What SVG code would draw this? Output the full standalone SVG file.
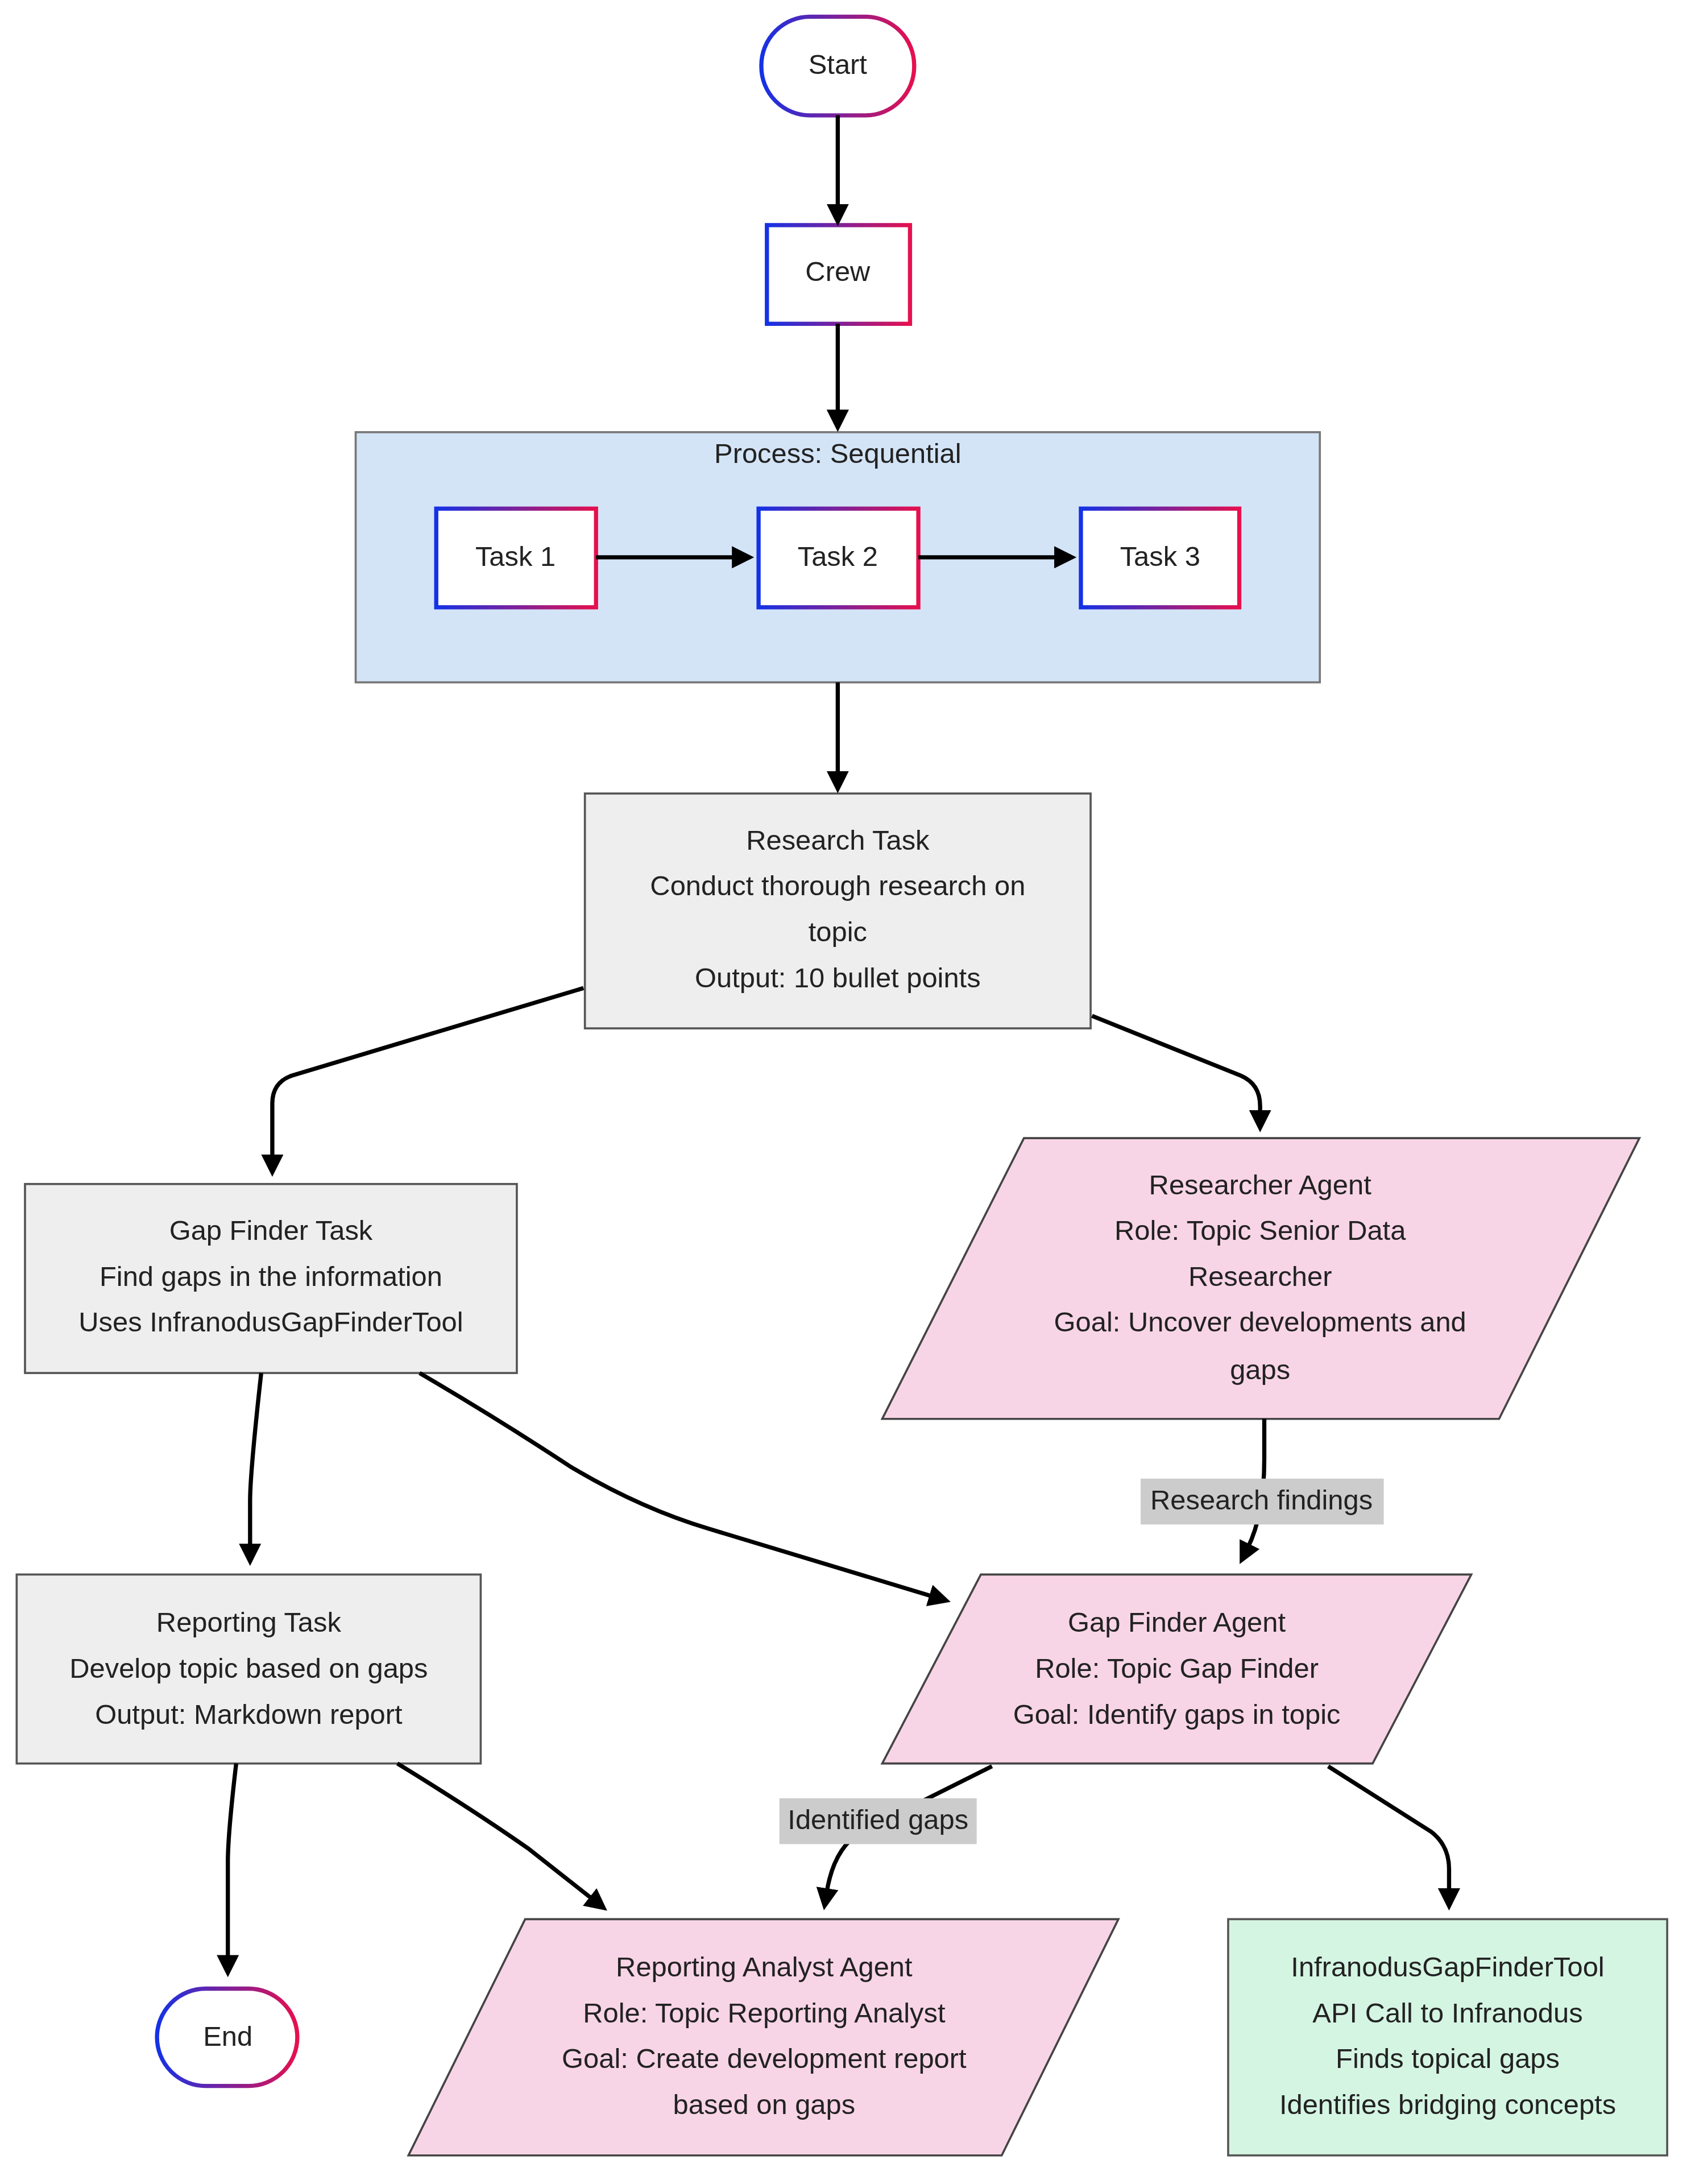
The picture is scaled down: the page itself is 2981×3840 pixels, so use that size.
<svg xmlns="http://www.w3.org/2000/svg" width="2981" height="3840" viewBox="0 0 2981 3840">
<defs>
<linearGradient id="g" x1="0" y1="0" x2="1" y2="0"><stop offset="0" stop-color="#1432e6"/><stop offset="1" stop-color="#e6104e"/></linearGradient>
<marker id="a" viewBox="0 0 10 10" refX="2" refY="5" markerWidth="16" markerHeight="16" markerUnits="userSpaceOnUse" orient="auto"><path d="M0,0 L10,5 L0,10 z" fill="#000"/></marker>
<style>
text{font-family:"Liberation Sans",Arial,sans-serif;font-size:20px;fill:#222;text-anchor:middle;dominant-baseline:middle}
.gr{fill:#fff;stroke:url(#g);stroke-width:3}
.task{fill:#eeeeee;stroke:#555;stroke-width:1.5}
.agent{fill:#f8d5e6;stroke:#444;stroke-width:1.5}
.tool{fill:#d5f5e3;stroke:#555;stroke-width:1.5}
.c{fill:none;stroke:#000;stroke-width:3;marker-end:url(#a)}
.lbl{fill:#cccccc}
</style>
</defs>
<rect width="2981" height="3840" fill="#fff"/>
<g transform="scale(2.4434)">
<g id="process"><rect x="256" y="311" width="694" height="180" fill="#d4e4f7" stroke="#777" stroke-width="1.5"/><text x="603" y="328">Process: Sequential</text></g>
<g id="start"><rect class="gr" x="548" y="12" width="110" height="71" rx="35"/><text x="603" y="48">Start</text></g>
<g id="crew"><rect class="gr" x="552" y="162" width="103" height="71"/><text x="603" y="197">Crew</text></g>
<g id="task1"><rect class="gr" x="314" y="366" width="115" height="71"/><text x="371" y="402">Task 1</text></g>
<g id="task2"><rect class="gr" x="546" y="366" width="115" height="71"/><text x="603" y="402">Task 2</text></g>
<g id="task3"><rect class="gr" x="778" y="366" width="114" height="71"/><text x="835" y="402">Task 3</text></g>
<g id="research"><rect class="task" x="421" y="571" width="364" height="169"/><text x="603" y="606">Research Task</text><text x="603" y="639">Conduct thorough research on</text><text x="603" y="672">topic</text><text x="603" y="705">Output: 10 bullet points</text></g>
<g id="gaptask"><rect class="task" x="18" y="852" width="354" height="136"/><text x="195" y="887">Gap Finder Task</text><text x="195" y="920">Find gaps in the information</text><text x="195" y="953">Uses InfranodusGapFinderTool</text></g>
<g id="researcher"><polygon class="agent" points="737,819 1180,819 1079,1021 635,1021"/><text x="907" y="854">Researcher Agent</text><text x="907" y="887">Role: Topic Senior Data</text><text x="907" y="920">Researcher</text><text x="907" y="953">Goal: Uncover developments and</text><text x="907" y="987">gaps</text></g>
<g id="reporttask"><rect class="task" x="12" y="1133" width="334" height="136"/><text x="179" y="1169">Reporting Task</text><text x="179" y="1202">Develop topic based on gaps</text><text x="179" y="1235">Output: Markdown report</text></g>
<g id="gapagent"><polygon class="agent" points="706,1133 1059,1133 988,1269 635,1269"/><text x="847" y="1169">Gap Finder Agent</text><text x="847" y="1202">Role: Topic Gap Finder</text><text x="847" y="1235">Goal: Identify gaps in topic</text></g>
<g id="end"><rect class="gr" x="113" y="1431" width="101" height="70" rx="35"/><text x="164" y="1467">End</text></g>
<g id="analyst"><polygon class="agent" points="378,1381 805,1381 721,1551 294,1551"/><text x="550" y="1417">Reporting Analyst Agent</text><text x="550" y="1450">Role: Topic Reporting Analyst</text><text x="550" y="1483">Goal: Create development report</text><text x="550" y="1516">based on gaps</text></g>
<g id="tool"><rect class="tool" x="884" y="1381" width="316" height="170"/><text x="1042" y="1417">InfranodusGapFinderTool</text><text x="1042" y="1450">API Call to Infranodus</text><text x="1042" y="1483">Finds topical gaps</text><text x="1042" y="1516">Identifies bridging concepts</text></g>
<g id="connectors">
<path class="c" d="M603,83 V150"/>
<path class="c" d="M603,233 V298"/>
<path class="c" d="M429,401 H530"/>
<path class="c" d="M661,401 H762"/>
<path class="c" d="M603,491 V558"/>
<path class="c" d="M420,711 L210,774 Q196,779 196,794 V834"/>
<path class="c" d="M786,731 L893,774 Q907,780 907,796 V802"/>
<path class="c" d="M910,1021 V1050 Q910,1090 898,1114"/>
<path class="c" d="M188,988 Q180,1060 180,1080 V1114"/>
<path class="c" d="M302,988 Q360,1022 410,1055 Q460,1085 510,1100 L672,1149"/>
<path class="c" d="M170,1269 Q164,1320 164,1340 V1410"/>
<path class="c" d="M286,1269 Q340,1302 380,1330 L427,1367"/>
<path class="c" d="M714,1271 L620,1318 Q600,1330 595,1362"/>
<path class="c" d="M956,1271 L1030,1318 Q1043,1328 1043,1345 V1362"/>
<rect class="lbl" x="821" y="1064" width="175" height="33"/><text x="908" y="1081">Research findings</text>
<rect class="lbl" x="561" y="1294" width="142" height="33"/><text x="632" y="1311">Identified gaps</text>
</g>
</g>
</svg>
